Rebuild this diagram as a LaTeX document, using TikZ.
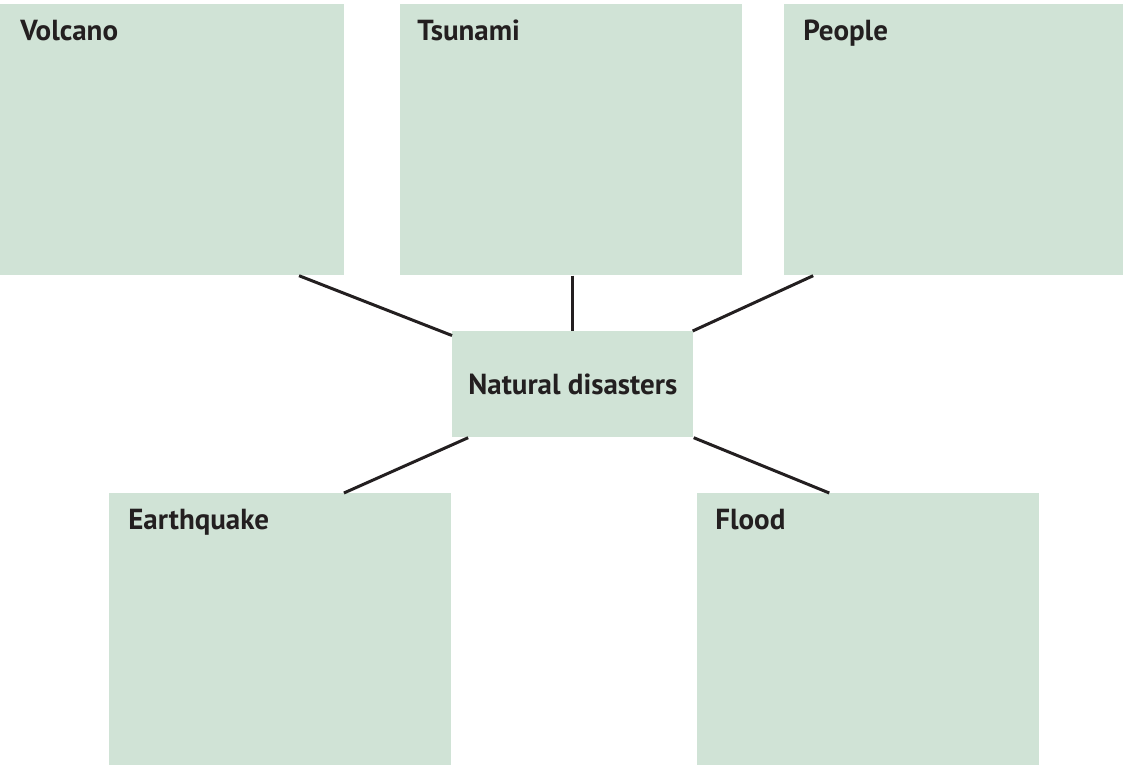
\documentclass[tikz,border=0pt]{standalone}
\usepackage{fontspec}
\setmainfont{PT Sans}
\usepackage{tikz}
\usepackage{xcolor}
\usetikzlibrary{positioning}
\definecolor{boxgreen}{RGB}{208,227,214}
\definecolor{inkblack}{RGB}{35,31,32}
\tikzset{
    disaster-box/.style = {fill=boxgreen, draw=none, rectangle, inner sep=0pt, anchor=north west},
    disaster-title/.style = {text=inkblack, font=\fontsize{16.5}{19}\selectfont\bfseries, inner sep=0pt},
    spoke/.style = {draw=inkblack, line width=1.7pt},
}

\begin{document}
\begin{tikzpicture}
\useasboundingbox (0,0) rectangle (22.46,-15.3);
\node [disaster-box, minimum width=6.88cm, minimum height=5.42cm] (volcano) at (0,-0.08) {};
\node [disaster-box, minimum width=6.84cm, minimum height=5.42cm] (tsunami) at (8.0,-0.08) {};
\node [disaster-box, minimum width=6.78cm, minimum height=5.42cm] (people) at (15.68,-0.08) {};
\node [disaster-box, minimum width=4.82cm, minimum height=2.12cm] (hub) at (9.04,-6.62) {};
\node [disaster-box, minimum width=6.84cm, minimum height=5.44cm] (earthquake) at (2.18,-9.86) {};
\node [disaster-box, minimum width=6.84cm, minimum height=5.44cm] (flood) at (13.94,-9.86) {};
\node[disaster-title, below right=0.32cm and 0.4cm] at (volcano.north west) {Volcano};
\node[disaster-title, below right=0.32cm and 0.34cm] at (tsunami.north west) {Tsunami};
\node[disaster-title, below right=0.32cm and 0.38cm] at (people.north west) {People};
\node[disaster-title] at (hub.center) {Natural disasters};
\node[disaster-title, below right=0.32cm and 0.38cm] at (earthquake.north west) {Earthquake};
\node[disaster-title, below right=0.32cm and 0.36cm] at (flood.north west) {Flood};
\draw[spoke] (volcano.-47) -- (hub.158);
\draw[spoke] (tsunami.south -| hub.north) -- (hub.north);
\draw[spoke] (people.-136.6) -- (hub.24);
\draw[spoke] (earthquake.65) -- (hub.-153.3);
\draw[spoke] (flood.106.4) -- (hub.south east);
\end{tikzpicture}
\end{document}
